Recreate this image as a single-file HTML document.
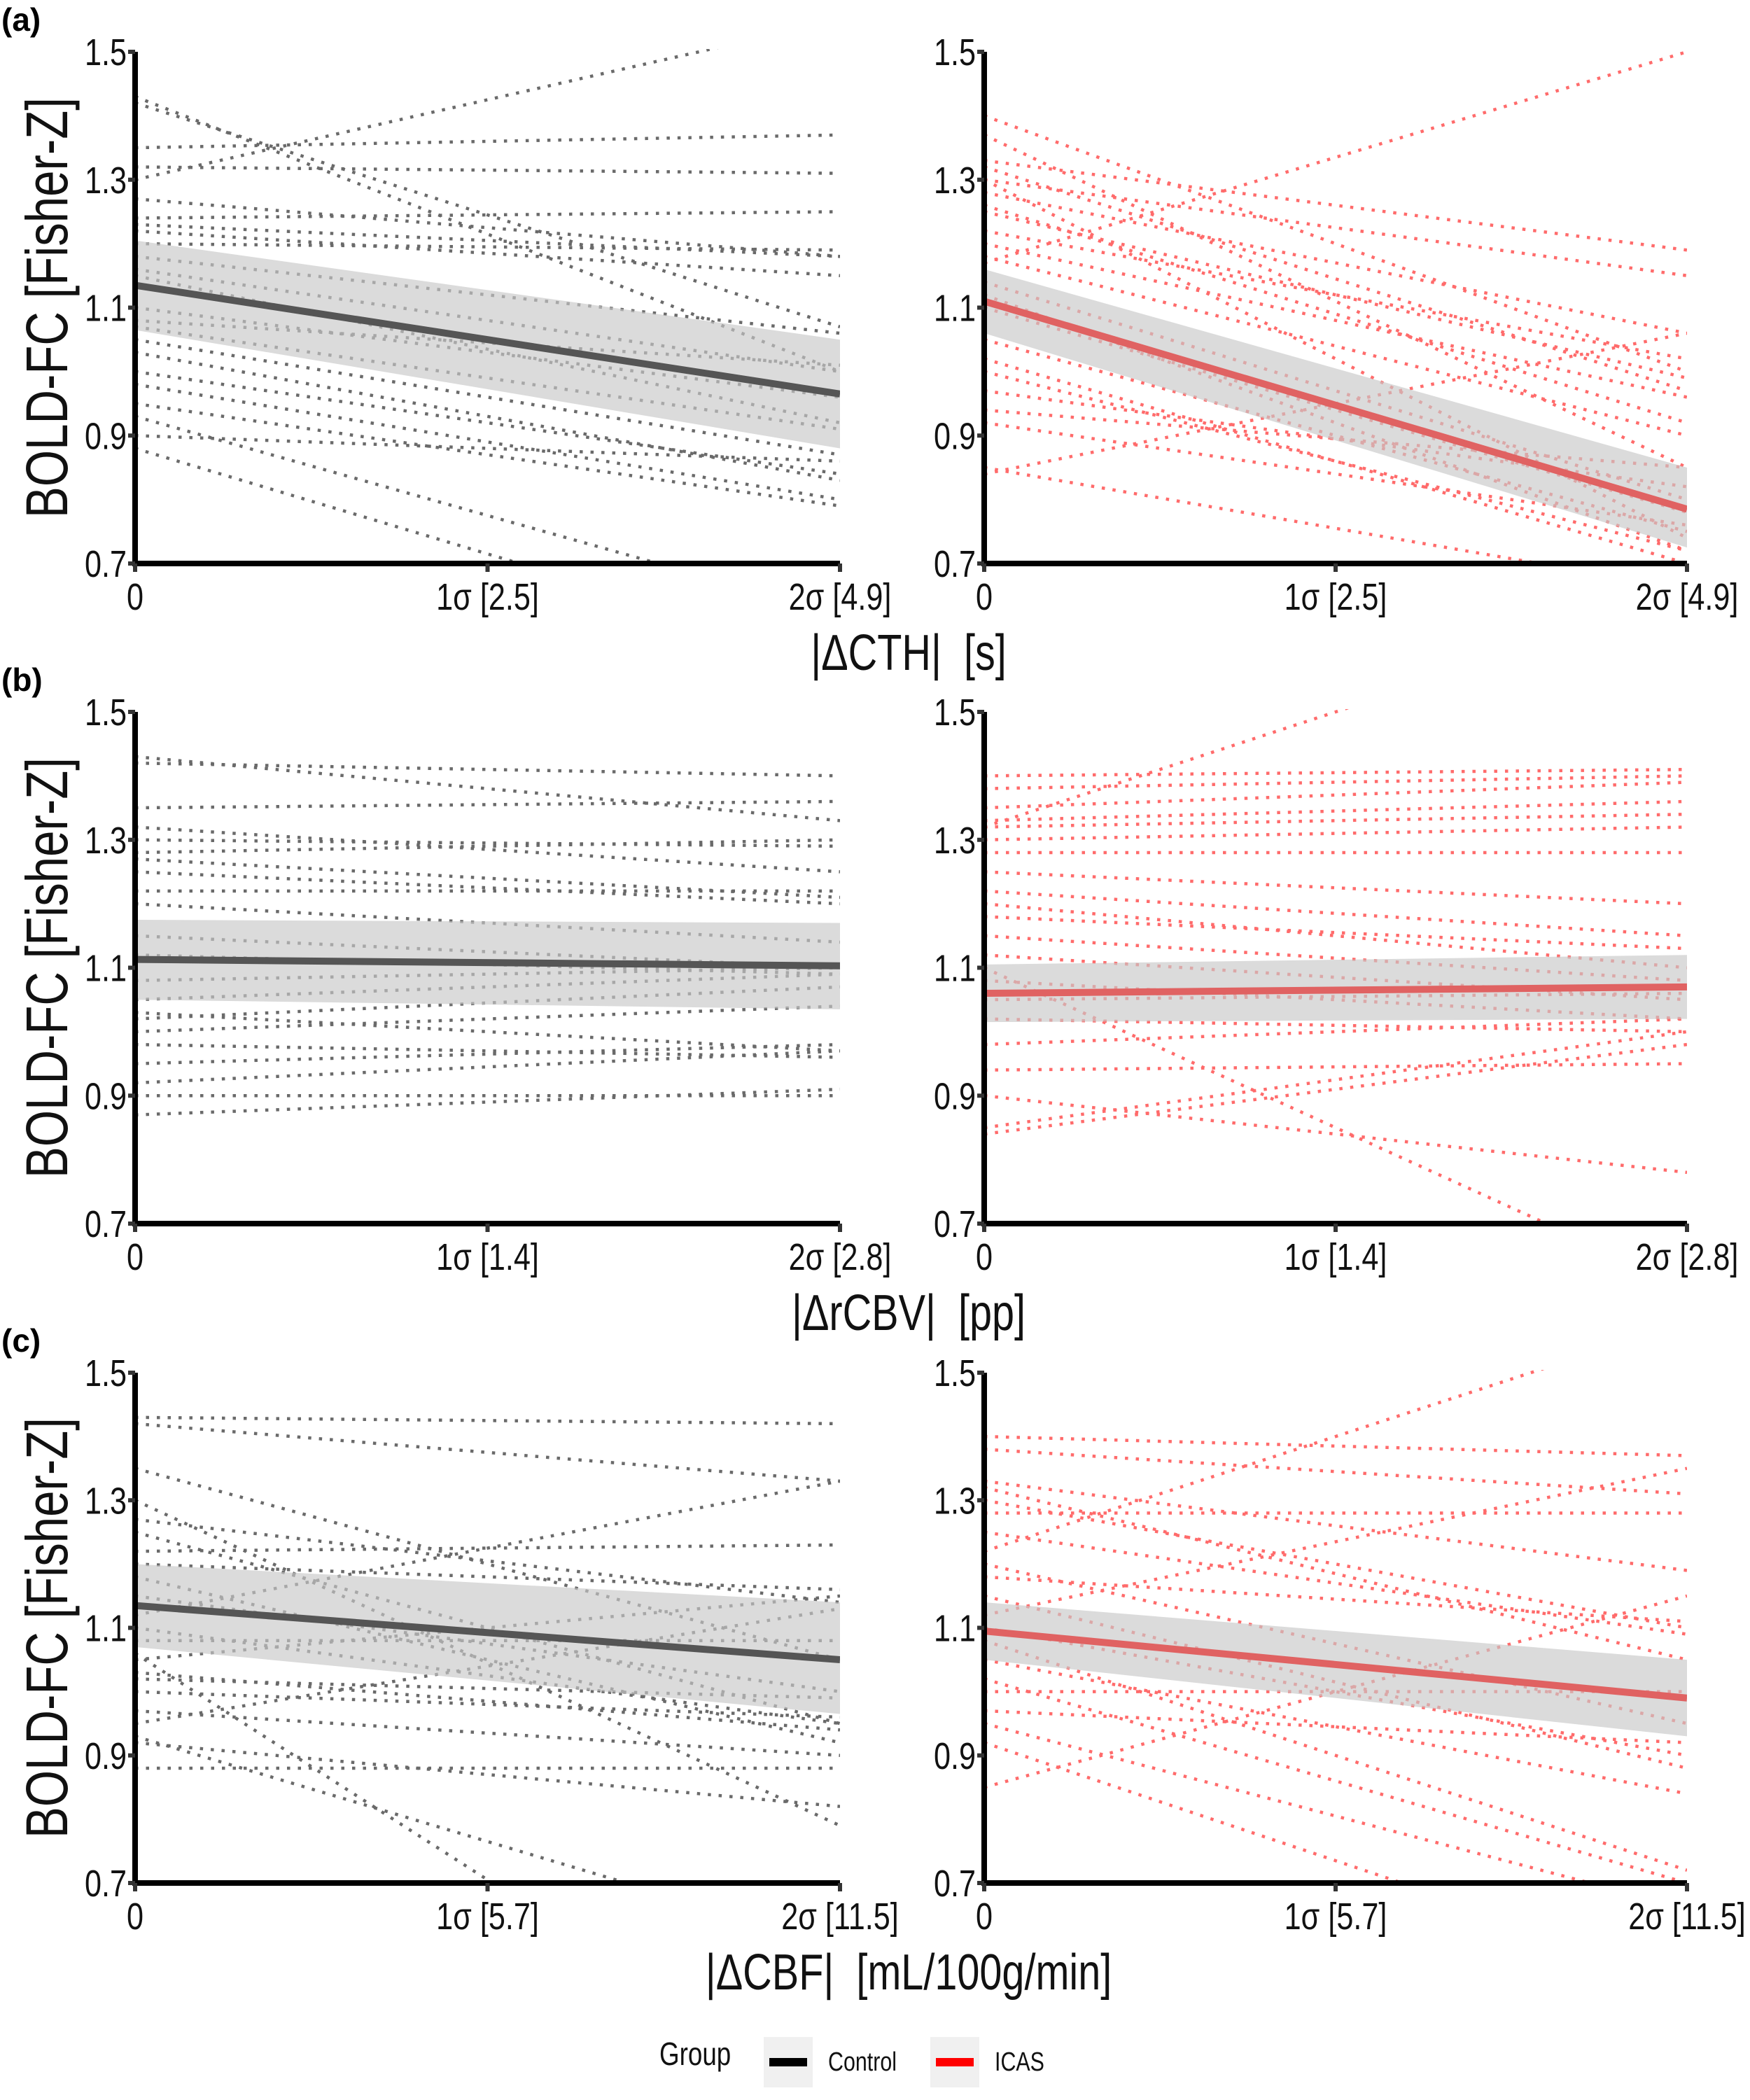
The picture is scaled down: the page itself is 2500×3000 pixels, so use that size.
<!DOCTYPE html>
<html><head><meta charset="utf-8"><style>
html,body{margin:0;padding:0;background:#fff;}
svg{display:block;}
text{font-family:"Liberation Sans",Arial,sans-serif;}
</style></head><body>
<svg id="fig" width="2500" height="3000" viewBox="0 0 2500 3000" xmlns="http://www.w3.org/2000/svg"></svg>
<script>
// ---- data ----
const yTicks = [0.7, 0.9, 1.1, 1.3, 1.5];
const xTickPos = [0, 1, 2];
const xTickLabelsA = ["0", "1σ [2.5]", "2σ [4.9]"];
const xTickLabelsB = ["0", "1σ [1.4]", "2σ [2.8]"];
const xTickLabelsC = ["0", "1σ [5.7]", "2σ [11.5]"];
const xTitles = ["|ΔCTH|\u00a0\u00a0[s]", "|ΔrCBV|\u00a0\u00a0[pp]", "|ΔCBF|\u00a0\u00a0[mL/100g/min]"];
const panelLabels = ["(a)", "(b)", "(c)"];

// subject lines: values at x=0 and x=2σ
const aCtrlStart = [1.43,1.35,1.32,1.30,1.27,1.24,1.23,1.22,1.20,1.18,1.16,1.15,1.10,1.07,1.05,1.03,1.00,0.98,0.95,0.93,0.90,0.88,1.08,1.42];
const aCtrlEnd   = [1.00,1.37,1.31,1.55,1.18,1.25,1.18,1.15,1.19,1.06,1.00,0.92,0.96,0.91,0.87,0.83,0.84,0.80,0.79,0.62,0.86,0.55,1.01,1.07];
const aIcasStart = [1.40,1.37,1.33,1.32,1.30,1.28,1.25,1.22,1.20,1.18,1.17,1.14,1.12,1.10,1.05,1.02,1.00,0.97,0.94,0.92,0.85,0.84,1.30,1.26];
const aIcasEnd   = [1.00,0.85,1.19,0.97,1.15,1.06,0.99,1.02,0.96,0.90,1.50,0.80,0.72,0.78,0.75,0.70,0.72,0.82,0.85,0.76,0.66,1.06,0.74,0.92];
const bCtrlStart = [1.43,1.42,1.35,1.32,1.30,1.28,1.27,1.25,1.22,1.20,1.15,1.12,1.08,1.05,1.03,1.02,1.00,0.98,0.95,0.92,0.90,0.87];
const bCtrlEnd   = [1.33,1.40,1.36,1.25,1.29,1.30,1.21,1.20,1.22,1.14,1.10,1.09,1.10,1.09,0.97,1.07,1.04,0.96,0.98,0.97,0.90,0.91];
const bIcasStart = [1.40,1.38,1.35,1.33,1.32,1.30,1.28,1.25,1.22,1.20,1.18,1.15,1.12,1.08,1.05,1.02,0.98,0.94,0.90,0.85,0.84,1.32,1.10];
const bIcasEnd   = [1.41,1.40,1.39,1.36,1.34,1.32,1.28,1.20,1.15,1.10,1.13,1.08,1.05,1.02,1.06,1.00,1.02,0.95,0.78,1.00,0.98,1.68,0.60];
const cCtrlStart = [1.43,1.42,1.35,1.30,1.27,1.25,1.22,1.20,1.18,1.15,1.12,1.10,1.08,1.05,1.03,1.02,1.00,0.97,0.95,0.93,0.92,0.88,1.06];
const cCtrlEnd   = [1.42,1.33,1.05,0.79,1.14,0.95,1.23,1.16,0.92,1.00,1.33,0.95,1.08,1.15,0.94,0.99,0.96,0.90,1.13,0.60,0.82,0.88,0.35];
const cIcasStart = [1.40,1.38,1.33,1.32,1.30,1.28,1.25,1.22,1.20,1.18,1.15,1.12,1.08,1.05,1.02,1.00,0.97,0.95,0.92,0.85,1.10];
const cIcasEnd   = [1.37,1.31,1.19,1.05,1.10,1.28,1.09,1.58,0.95,1.11,0.88,1.35,0.72,0.84,0.70,1.00,0.92,0.66,0.55,1.15,0.90];

// fits: [fit0, fit2, lo0, hi0, lo2, hi2]
const aCtrlFit = [1.135, 0.965, 1.065, 1.205, 0.88, 1.05];
const aIcasFit = [1.11, 0.785, 1.06, 1.16, 0.725, 0.85];
const bCtrlFit = [1.113, 1.103, 1.05, 1.175, 1.035, 1.17];
const bIcasFit = [1.06, 1.07, 1.015, 1.105, 1.02, 1.12];
const cCtrlFit = [1.135, 1.05, 1.07, 1.20, 0.965, 1.14];
const cIcasFit = [1.095, 0.99, 1.05, 1.14, 0.93, 1.05];

// ---- layout ----
const NS = "http://www.w3.org/2000/svg";
const svg = document.getElementById("fig");
function mk(tag, attrs, parent){const e=document.createElementNS(NS,tag);for(const k in attrs)e.setAttribute(k,attrs[k]);(parent||svg).appendChild(e);return e;}
const SX = 0.8;
function ntext(x,y,size,anchor,parent,extra){
  const t = mk("text",{x:0,y:0,"font-size":size,"text-anchor":anchor,fill:"#111",transform:`translate(${x},${y}) ${extra||""} scale(${SX},1)`},parent);
  return t;
}
const rowsY = [[74,805],[1017,1748],[1961,2690]];
const colsX = [[193,1200],[1406,2410]];
const tickLabelSets = [xTickLabelsA, xTickLabelsB, xTickLabelsC];
const rowData = [
  [[aCtrlStart,aCtrlEnd,aCtrlFit],[aIcasStart,aIcasEnd,aIcasFit]],
  [[bCtrlStart,bCtrlEnd,bCtrlFit],[bIcasStart,bIcasEnd,bIcasFit]],
  [[cCtrlStart,cCtrlEnd,cCtrlFit],[cIcasStart,cIcasEnd,cIcasFit]]
];
const groupStyle = [
  {dot:"#6a6a6a", fit:"#555555", name:"control"},
  {dot:"#ff6b6b", fit:"#e06262", name:"icas"}
];

const defs = mk("defs",{});
for(let r=0;r<3;r++){
  const [yt,yb]=rowsY[r];
  const ys = v => yb - (v-0.7)/(1.5-0.7)*(yb-yt);
  for(let c=0;c<2;c++){
    const [xl,xr]=colsX[c];
    const xs = v => xl + v/2*(xr-xl);
    const g = mk("g",{});
    
    
    const cid = `clip${r}${c}`;
    const cp = mk("clipPath",{id:cid},defs);
    mk("rect",{x:xl,y:yt-4,width:xr-xl,height:yb-yt+4},cp);
    const [st,en,fit]=rowData[r][c];
    const dg = mk("g",{"clip-path":`url(#${cid})`},g);
    for(let i=0;i<st.length;i++){
      const l = mk("line",{x1:xs(0),y1:ys(st[i]),x2:xs(2),y2:ys(en[i]),stroke:groupStyle[c].dot,"stroke-width":4.5,"stroke-dasharray":"4.5 11"},dg);
      
      
    }
    const rib = mk("polygon",{points:`${xs(0)},${ys(fit[3])} ${xs(2)},${ys(fit[5])} ${xs(2)},${ys(fit[4])} ${xs(0)},${ys(fit[2])}`,fill:"#c8c8c8","fill-opacity":0.65},dg);
    
    
    const fl = mk("line",{x1:xs(0),y1:ys(fit[0]),x2:xs(2),y2:ys(fit[1]),stroke:groupStyle[c].fit,"stroke-width":10},dg);
    
    
    // axes
    const ya = mk("line",{x1:xl,y1:yt,x2:xl,y2:yb+4,stroke:"#000","stroke-width":8},g);
    
    
    const xa = mk("line",{x1:xl-4,y1:yb,x2:xr,y2:yb,stroke:"#000","stroke-width":8},g);
    
    
    for(const t of yTicks){
      mk("line",{x1:xl-10,y1:ys(t),x2:xl,y2:ys(t),stroke:"#333","stroke-width":6},g);
      const tx = ntext(xl-12, ys(t)+19, 54, "end", g);
      tx.textContent = t.toFixed(1);
      
      
    }
    for(let i=0;i<xTickPos.length;i++){
      const x = xs(xTickPos[i]);
      mk("line",{x1:x,y1:yb,x2:x,y2:yb+12,stroke:"#333","stroke-width":6},g);
      const tx = ntext(x, yb+66, 54, "middle", g);
      tx.textContent = tickLabelSets[r][i];
      
      
    }
    if(c==0){
      const yt2 = mk("text",{x:0,y:0,"text-anchor":"middle","font-size":84,fill:"#111",transform:`translate(96,${(yt+yb)/2}) rotate(-90) scale(${SX},1)`},g);
      yt2.textContent = "BOLD-FC [Fisher-Z]";
      
      
    }
  }
  const pl = mk("text",{x:2,y:rowsY[r][0]-30,"font-size":46,"font-weight":"bold",fill:"#000"});
  pl.textContent = panelLabels[r];
  
  
  const xt = ntext(1298, rowsY[r][1]+152, 72, "middle", svg);
  xt.textContent = xTitles[r];
  
  
}
// legend
const lg = mk("g",{});


const gt = ntext(942, 2950, 46, "start", lg); gt.textContent="Group";


const items=[["Control","#000",1091,1183],["ICAS","#ff0000",1329,1421]];
for(const [lab,col,kx,tx] of items){
  const e = mk("g",{},lg);
  
  
  mk("rect",{x:kx,y:2910,width:70,height:72,fill:"#f0f0f0"},e);
  mk("line",{x1:kx+8,y1:2946,x2:kx+62,y2:2946,stroke:col,"stroke-width":12},e);
  const t = ntext(tx, 2958, 38, "start", e); t.textContent=lab;
}
</script>
</body></html>
